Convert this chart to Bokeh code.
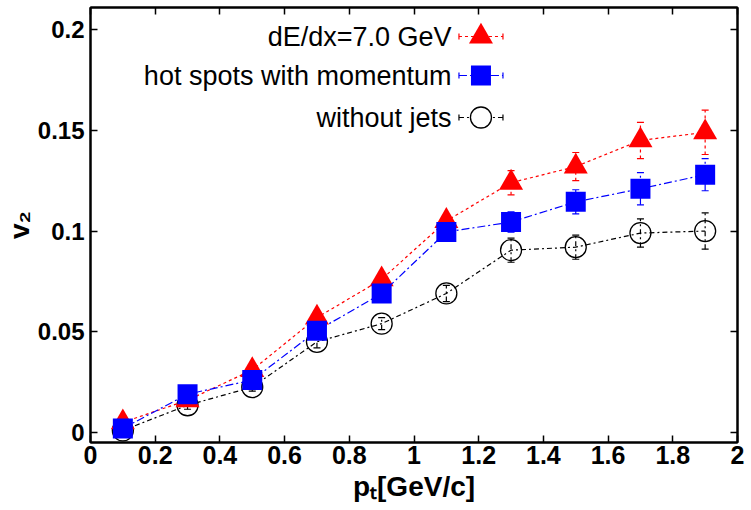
import numpy as np
from bokeh.plotting import figure
from bokeh.models import (Range1d, LinearAxis, FixedTicker, Label, Whisker, TeeHead,
                          ColumnDataSource)
from bokeh.embed import file_html
from bokeh.resources import INLINE

# ---------------- data ----------------
pt = [0.1, 0.3, 0.5, 0.7, 0.9, 1.1, 1.3, 1.5, 1.7, 1.9]
v2_dedx = [0.005, 0.016, 0.031, 0.057, 0.076, 0.105, 0.124, 0.132, 0.145, 0.149]
err_dedx = [0.001, 0.001, 0.0015, 0.002, 0.002, 0.003, 0.006, 0.007, 0.009, 0.011]
v2_hot = [0.002, 0.019, 0.026, 0.0505, 0.069, 0.0995, 0.1045, 0.1145, 0.121, 0.128]
err_hot = [0.001, 0.001, 0.0015, 0.002, 0.002, 0.002, 0.005, 0.006, 0.008, 0.008]
v2_nojet = [0.001, 0.0135, 0.0225, 0.045, 0.054, 0.069, 0.0905, 0.092, 0.099, 0.100]
err_nojet = [0.001, 0.002, 0.002, 0.003, 0.003, 0.004, 0.006, 0.006, 0.007, 0.009]

series_names = ["dE/dx=7.0 GeV", "hot spots with momentum", "without jets"]
x_ticks = [0, 0.2, 0.4, 0.6, 0.8, 1.0, 1.2, 1.4, 1.6, 1.8, 2.0]
x_tick_labels = ["0", "0.2", "0.4", "0.6", "0.8", "1", "1.2", "1.4", "1.6", "1.8", "2"]
y_ticks = [0, 0.05, 0.1, 0.15, 0.2]
y_tick_labels = ["0", "0.05", "0.1", "0.15", "0.2"]
x_title = "p\u209c[GeV/c]"
y_title = "v\u2082"

# ---------------- layout / style ----------------
X_RANGE = (0, 2)
Y_RANGE = (-0.005, 0.211)
FONT = "Liberation Sans"

p = figure(width=751, height=510, output_backend="svg", toolbar_location=None,
           x_range=Range1d(*X_RANGE), y_range=Range1d(*Y_RANGE),
           min_border_left=0, min_border_right=14, min_border_top=7, min_border_bottom=68)
p.grid.visible = False
p.background_fill_color = "white"
p.border_fill_color = "white"
p.outline_line_color = "black"
p.outline_line_width = 2

xt = FixedTicker(ticks=x_ticks)
yt = FixedTicker(ticks=y_ticks)

def style_axis(ax, show_labels, tick_font="25px"):
    ax.axis_line_width = 2
    ax.axis_line_color = "black"
    ax.major_tick_in = 7
    ax.major_tick_out = 0
    ax.major_tick_line_width = 1.5
    ax.minor_tick_line_color = None
    ax.major_label_text_font = FONT
    ax.major_label_text_font_style = "bold"
    ax.major_label_text_font_size = tick_font
    ax.major_label_text_color = "black"
    ax.axis_label_text_font = FONT
    ax.axis_label_text_font_style = "bold"
    ax.axis_label_text_font_size = "28px"
    ax.axis_label_text_color = "black"
    if not show_labels:
        ax.major_label_text_font_size = "0px"
        ax.major_label_text_color = None
        ax.major_label_standoff = 0

p.xaxis.ticker = xt
p.yaxis.ticker = yt
p.xaxis.major_label_overrides = {float(t): l for t, l in zip(x_ticks, x_tick_labels)}
p.yaxis.major_label_overrides = {float(t): l for t, l in zip(y_ticks, y_tick_labels)}
style_axis(p.xaxis[0], True, "25px")
style_axis(p.yaxis[0], True, "24px")
p.xaxis.major_label_standoff = 3
p.yaxis.major_label_standoff = 6
p.xaxis.axis_label = x_title
p.yaxis.axis_label = y_title
p.xaxis.axis_label_standoff = 4
p.yaxis.axis_label_standoff = 0

ax_top = LinearAxis(ticker=xt)
ax_right = LinearAxis(ticker=yt)
style_axis(ax_top, False)
style_axis(ax_right, False)
p.add_layout(ax_top, "above")
p.add_layout(ax_right, "right")

# ---------------- series ----------------
styles = [
    dict(color="#ff0000", dash="3 3", marker="triangle", size=24, fill="#ff0000"),
    dict(color="#0000ff", dash="8 3 2 3", marker="square", size=20, fill="#0000ff"),
    dict(color="#000000", dash="5 3 2 3", marker="circle", size=21, fill="white"),
]
values = [v2_dedx, v2_hot, v2_nojet]
errors = [err_dedx, err_hot, err_nojet]

order = [2, 0, 1]
for i in order:
    st = styles[i]
    y = np.array(values[i]); e = np.array(errors[i])
    src = ColumnDataSource(dict(x=pt, y=y, lo=y - e, hi=y + e))
    p.line("x", "y", source=src, line_color=st["color"], line_dash=st["dash"], line_width=1.2)
    w = Whisker(base="x", lower="lo", upper="hi", source=src,
                line_color=st["color"], line_dash=st["dash"], line_width=1.2,
                upper_head=TeeHead(size=7, line_color=st["color"], line_width=1.2),
                lower_head=TeeHead(size=7, line_color=st["color"], line_width=1.2))
    p.add_layout(w)
    if st["marker"] == "circle":
        p.scatter("x", "y", source=src, marker="circle", size=st["size"],
                  line_color="black", line_width=1.3, fill_color=None)
    else:
        p.scatter("x", "y", source=src, marker=st["marker"], size=st["size"],
                  line_color=None, fill_color=st["fill"])

# ---------------- legend (gnuplot-style: text then sample) ----------------
leg_text_right = 450 - 89           # screen px from frame left
leg_rows_canvas_y = [36, 75, 117]
leg_x0, leg_x1, leg_xm = 1.139, 1.275, 1.207
frame_bottom = 442
y_scale = 435 / (Y_RANGE[1] - Y_RANGE[0])
for i, cy in enumerate(leg_rows_canvas_y):
    st = styles[i]
    p.add_layout(Label(x=leg_text_right, y=frame_bottom - cy, x_units="screen", y_units="screen",
                       text=series_names[i], text_align="right", text_baseline="middle",
                       text_font=FONT, text_font_size="27px", text_color="black"))
    yd = Y_RANGE[0] + (frame_bottom - cy) / y_scale
    p.line([leg_x0, leg_x1], [yd, yd], line_color=st["color"], line_dash=st["dash"], line_width=1.2)
    hh = 3 / y_scale
    p.segment([leg_x0, leg_x1], [yd - hh, yd - hh], [leg_x0, leg_x1], [yd + hh, yd + hh],
              line_color=st["color"], line_width=1.2)
    if st["marker"] == "circle":
        p.scatter([leg_xm], [yd], marker="circle", size=st["size"], line_color="black",
                  line_width=1.3, fill_color="white")
    else:
        p.scatter([leg_xm], [yd], marker=st["marker"], size=st["size"], line_color=None,
                  fill_color=st["fill"])

open("out.html", "w").write(file_html(p, INLINE))
